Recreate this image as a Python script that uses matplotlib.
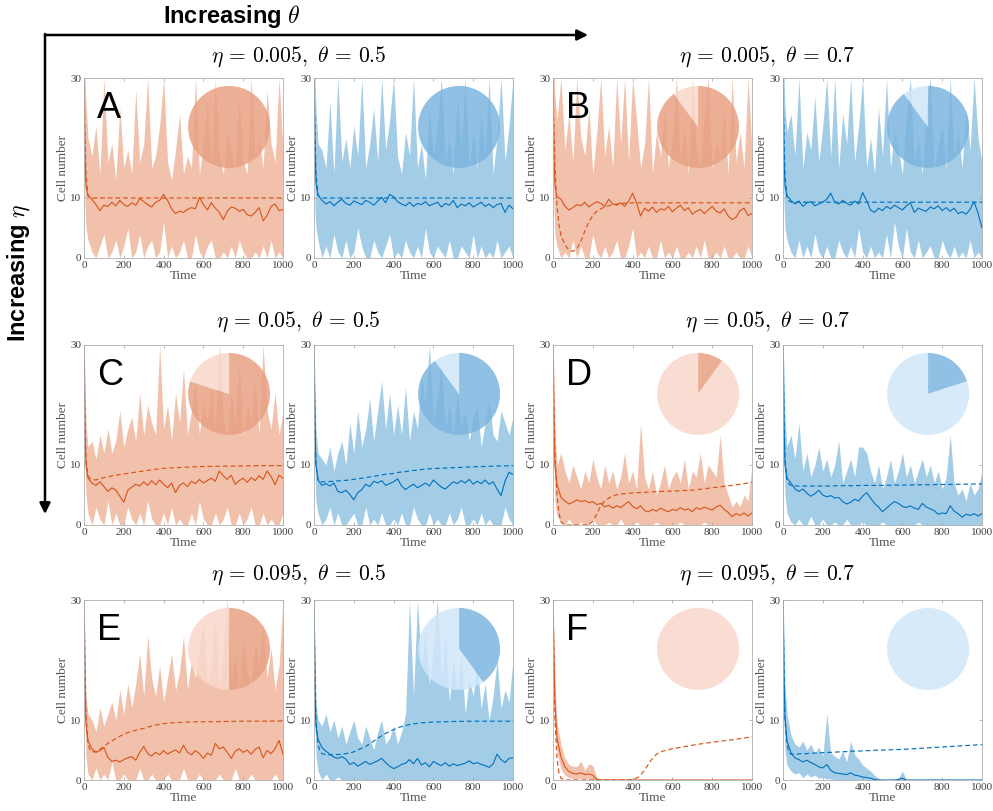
import matplotlib
matplotlib.use("Agg")
import matplotlib.pyplot as plt
from matplotlib.patches import FancyArrowPatch

plt.rcParams['mathtext.fontset'] = 'cm'
plt.rcParams['font.family'] = 'Liberation Serif'

# time grids
t = [0, 5, 10] + list(range(20, 1001, 20))
t_dash = [0, 5, 10, 20, 30, 40,
          60, 80, 100, 120, 140, 160, 180, 200,
          220, 240, 260, 300, 350, 400,
          430, 460, 490, 520, 550,
          600, 700, 800, 900, 1000]

# ---- panel A (eta=0.005, theta=0.5)
a_org_mean = [30, 17, 12, 10.3,
              9.8, 8.9, 7.9, 8.8, 8.6, 9.3, 8.7, 9.6, 8.9, 8.6,
              9.2, 8.8, 9.9, 9.4, 8.9, 8.5, 9.3, 9.6, 10.6, 9.6,
              8.2, 7.4, 7.8, 7.6, 8.1, 8.4, 8.2, 10.1, 8.9, 8.0,
              9.2, 8.3, 7.6, 6.4, 7.8, 8.5, 8.3, 7.8, 8.1, 7.2,
              7.0, 7.6, 8.4, 6.2, 7.1, 8.6, 9.0, 7.9, 8.1]
a_org_hi = [30, 30, 26, 20,
            17, 22, 14, 30, 16, 19, 13, 25, 15, 18,
            14, 28, 16, 19, 30, 15, 17, 22, 30, 16,
            13, 18, 24, 14, 17, 15, 30, 14, 19, 26,
            16, 30, 17, 14, 21, 18, 15, 27, 16, 14,
            30, 17, 20, 15, 28, 19, 16, 30, 18]
a_org_lo = [30, 9, 5, 3,
            1, 0, 2, 4, 0, 1, 3, 0, 2, 5,
            0, 1, 4, 0, 2, 3, 0, 1, 6, 0,
            2, 0, 1, 3, 0, 0, 4, 1, 0, 2,
            3, 0, 0, 1, 0, 2, 0, 3, 1, 0,
            0, 1, 0, 2, 0, 3, 0, 1, 0]
a_org_dash = [30, 21, 14, 10.5, 10.1, 10,
              10, 10, 10, 10, 10, 10, 10, 10,
              10, 10, 10, 10, 10, 10,
              10, 10, 10, 10, 10,
              10, 10, 10, 10, 10]

a_blu_mean = [30, 18, 12.5, 10.5,
              9.6, 9.0, 9.4, 8.7, 9.3, 9.8, 9.1, 8.8, 9.5, 9.2,
              8.9, 9.6, 9.3, 8.8, 9.5, 10.1, 9.2, 10.6, 10.2, 9.4,
              9.0, 8.7, 9.3, 8.6, 9.1, 8.9, 9.4, 8.7, 9.0, 9.3,
              8.5, 9.1, 8.8, 9.6, 8.4, 9.0, 8.7, 9.2, 8.5, 8.9,
              9.3, 8.6, 9.0, 8.4, 8.9, 9.1, 7.6, 8.8, 8.2]
a_blu_hi = [30, 30, 25, 19,
            18, 15, 26, 14, 30, 16, 20, 15, 22, 17,
            30, 15, 19, 25, 16, 30, 18, 23, 30, 17,
            14, 21, 17, 30, 15, 19, 13, 25, 17, 22,
            30, 16, 20, 14, 27, 18, 30, 15, 21, 15,
            24, 17, 30, 14, 20, 30, 16, 22, 30]
a_blu_lo = [30, 8, 5, 3,
            0, 2, 0, 4, 1, 0, 3, 0, 1, 5,
            2, 0, 0, 3, 1, 0, 2, 4, 0, 1,
            0, 3, 1, 0, 2, 0, 5, 1, 0, 2,
            1, 0, 3, 0, 0, 2, 1, 0, 4, 0,
            2, 0, 1, 0, 3, 0, 1, 2, 0]
a_blu_dash = [30, 21, 14, 10.5, 10.1, 10,
              10, 10, 10, 10, 10, 10, 10, 10,
              10, 10, 10, 10, 10, 10,
              10, 10, 10, 10, 10,
              10, 10, 10, 10, 10]

# ---- panel B (eta=0.005, theta=0.7)
b_org_mean = [30, 17, 12, 10.2,
              9.8, 8.6, 8.0, 8.4, 8.9, 8.7, 9.3, 8.5, 9.0, 9.4,
              9.1, 8.6, 9.8, 9.0, 8.8, 9.2, 8.6, 9.5, 10.8, 9.2,
              7.0, 8.3, 7.8, 8.5, 7.6, 8.2, 8.0, 8.6, 7.7, 8.3,
              8.8, 7.9, 8.4, 7.3, 7.8, 8.1, 7.4, 8.0, 8.6, 7.8,
              7.5, 8.2, 7.0, 6.4, 6.8, 7.9, 8.3, 7.1, 7.4]
b_org_hi = [30, 30, 27, 23,
            30, 18, 24, 16, 30, 20, 17, 25, 14, 21,
            30, 17, 22, 15, 30, 19, 30, 16, 30, 23,
            15, 19, 30, 14, 21, 17, 25, 15, 20, 30,
            16, 22, 14, 30, 18, 15, 24, 30, 15, 20,
            17, 25, 14, 30, 16, 21, 15, 30, 18]
b_org_lo = [30, 8, 4, 2,
            0, 1, 0, 3, 0, 2, 0, 0, 4, 1,
            0, 2, 0, 1, 3, 0, 0, 2, 5, 0,
            1, 0, 2, 0, 0, 3, 0, 1, 0, 2,
            0, 0, 1, 0, 2, 0, 3, 0, 0, 1,
            0, 2, 0, 0, 1, 0, 0, 2, 0]
b_org_dash = [30, 22, 15, 8.5, 5.5, 3.8,
              2.2, 1.3, 1.1, 1.5, 2.8, 4.5, 6.0, 7.1,
              7.8, 8.2, 8.5, 8.9, 9.1, 9.2,
              9.2, 9.2, 9.2, 9.2, 9.2,
              9.2, 9.2, 9.2, 9.2, 9.2]

b_blu_mean = [30, 17, 12, 10.4,
              9.6, 9.0, 9.5, 8.6, 9.2, 9.4, 8.7, 9.0, 9.3, 9.8,
              10.8, 9.3, 9.0, 9.6, 9.1, 8.8, 9.5, 9.0, 10.9, 9.6,
              8.0, 7.6, 8.3, 7.9, 8.6, 8.2, 8.8, 8.4, 8.0, 8.7,
              9.2, 7.6, 8.3, 8.0, 7.8, 8.5, 8.2, 8.7, 7.9, 8.4,
              7.8, 8.3, 7.4, 7.7, 7.3, 8.1, 9.4, 7.5, 5.0]
b_blu_hi = [30, 30, 25, 21,
            24, 17, 30, 15, 21, 18, 27, 16, 22, 30,
            17, 30, 15, 24, 19, 30, 16, 22, 30, 15,
            20, 14, 25, 17, 30, 15, 21, 18, 14, 24,
            30, 16, 20, 14, 25, 30, 15, 19, 22, 15,
            30, 17, 21, 15, 25, 18, 30, 20, 16]
b_blu_lo = [30, 9, 5, 3,
            1, 0, 3, 0, 2, 0, 4, 1, 0, 2,
            0, 0, 3, 1, 0, 2, 0, 5, 1, 0,
            2, 0, 1, 0, 4, 0, 6, 2, 0, 5,
            1, 0, 3, 0, 1, 2, 0, 0, 3, 1,
            0, 2, 0, 1, 0, 3, 0, 1, 0]
b_blu_dash = [30, 20, 14, 10, 9.5, 9.3,
              9.3, 9.3, 9.3, 9.3, 9.3, 9.3, 9.3, 9.3,
              9.3, 9.3, 9.3, 9.3, 9.3, 9.3,
              9.3, 9.3, 9.3, 9.3, 9.3,
              9.3, 9.3, 9.3, 9.3, 9.3]

# ---- panel C (eta=0.05, theta=0.5)
c_org_mean = [30, 16, 10, 7.8,
              7.0, 6.6, 7.2, 6.4, 5.6, 6.2, 5.8, 4.8, 3.8, 5.8,
              6.3, 6.8, 6.5, 7.2, 6.6, 7.4, 6.7, 7.5, 6.8, 6.2,
              7.0, 5.4, 6.6, 7.0, 6.4, 7.3, 6.9, 7.6, 7.0, 7.4,
              7.8, 7.3, 9.0, 8.2, 7.6, 8.3, 6.8, 7.4, 7.8, 7.1,
              7.9, 7.4, 8.2, 7.6, 9.0, 8.1, 6.7, 8.3, 7.8]
c_org_hi = [30, 25, 17, 13,
            14, 11, 15, 12, 16, 12, 14, 19, 13, 16,
            18, 14, 22, 15, 20, 17, 15, 30, 16, 20,
            14, 22, 17, 26, 15, 19, 24, 15, 21, 17,
            23, 16, 30, 18, 15, 22, 17, 27, 15, 20,
            17, 24, 15, 30, 19, 16, 22, 15, 19]
c_org_lo = [30, 10, 5, 2,
            0, 3, 1, 0, 4, 0, 2, 0, 0, 3,
            1, 0, 2, 0, 4, 1, 0, 0, 2, 0,
            3, 0, 1, 0, 0, 2, 0, 4, 1, 0,
            0, 2, 0, 1, 3, 0, 0, 2, 0, 1,
            3, 0, 0, 2, 0, 1, 0, 0, 2]
c_org_dash = [30, 18, 11, 8.2, 7.8, 7.6,
              7.5, 7.7, 7.9, 8.0, 8.2, 8.3, 8.4, 8.5,
              8.6, 8.7, 8.8, 9.0, 9.25, 9.45,
              9.5, 9.55, 9.6, 9.65, 9.7,
              9.75, 9.8, 9.85, 9.9, 9.9]

c_blu_mean = [30, 16, 10, 7.5,
              6.6, 6.9, 6.5, 7.0, 5.6, 5.4, 5.8, 5.1, 4.2, 5.4,
              5.9, 6.8, 6.4, 7.3, 7.0, 7.4, 6.6, 6.9, 7.2, 7.7,
              6.5, 5.9, 6.4, 6.8, 6.2, 6.6, 7.0, 6.5, 7.5, 6.9,
              6.3, 6.0, 6.6, 7.2, 6.9, 7.4, 7.0, 7.6, 6.8, 7.3,
              6.9, 7.5, 6.8, 7.2, 6.0, 4.9, 7.3, 8.8, 8.4]
c_blu_hi = [30, 24, 16, 12,
            11, 10, 13, 9, 12, 14, 10, 17, 12, 19,
            13, 16, 21, 14, 19, 24, 16, 22, 15, 20,
            15, 23, 14, 19, 16, 25, 20, 30, 17, 21,
            27, 16, 20, 15, 22, 16, 19, 14, 18, 20,
            13, 17, 21, 15, 14, 19, 17, 15, 18]
c_blu_lo = [30, 9, 4, 2,
            0, 1, 3, 0, 2, 0, 0, 1, 2, 0,
            0, 3, 0, 1, 0, 2, 0, 0, 1, 0,
            2, 0, 0, 3, 1, 0, 0, 2, 0, 1,
            0, 0, 2, 0, 1, 3, 0, 0, 1, 0,
            2, 0, 1, 0, 0, 0, 3, 1, 0]
c_blu_dash = [30, 16, 10, 7.6, 7.3, 7.2,
              7.2, 7.25, 7.3, 7.35, 7.4, 7.45, 7.5, 7.6,
              7.7, 7.8, 7.9, 8.1, 8.4, 8.6,
              8.8, 8.9, 9.05, 9.15, 9.3,
              9.4, 9.55, 9.7, 9.8, 9.9]

# ---- panel D (eta=0.05, theta=0.7)
d_org_mean = [30, 16, 10, 6.8,
              4.6, 4.0, 3.5, 3.8, 4.2, 3.9, 4.1, 3.7, 3.9, 3.4,
              3.6, 3.0, 3.3, 2.8, 3.2, 2.9, 3.4, 3.9, 3.1, 2.7,
              3.2, 2.4, 2.2, 2.6, 2.3, 2.8, 2.5, 2.2, 2.6, 2.4,
              2.9, 2.5, 2.7, 2.2, 2.9, 2.6, 3.0, 2.7, 2.5, 3.0,
              3.3, 2.6, 2.1, 1.4, 1.9, 1.6, 2.0, 1.5, 2.0]
d_org_hi = [30, 25, 15, 10,
            12, 9, 7, 10, 8, 6, 9, 7, 11, 8,
            6, 10, 7, 9, 6, 8, 12, 7, 9, 6,
            17, 8, 6, 9, 5, 7, 10, 6, 8, 9,
            7, 11, 6, 9, 8, 12, 7, 10, 9, 8,
            15, 7, 5, 3, 4, 3, 5, 4, 10]
d_org_lo = [30, 10, 4, 1.5,
            0.5, 0, 1, 0, 0, 0.5, 0, 0, 1, 0,
            0, 0, 0.5, 0, 0, 1, 0, 0, 0, 0.5,
            0, 0, 0, 0, 0.5, 0, 0, 0, 0, 0,
            0.5, 0, 0, 0, 0, 0, 0.5, 0, 0, 0,
            0, 0, 0, 0, 0, 0, 0, 0, 0]
d_org_dash = [30, 20, 12, 5, 2, 0.5,
              0, 0, 0, 0, 0, 0, 0.1, 0.6,
              1.8, 3.2, 4.0, 4.9, 5.2, 5.35,
              5.4, 5.45, 5.5, 5.55, 5.6,
              5.65, 5.8, 6.2, 6.6, 7.1]

d_blu_mean = [30, 17, 10, 7.8,
              7.0, 6.0, 5.6, 6.0, 5.3, 4.8, 5.2, 5.8, 5.0, 4.7,
              4.9, 4.5, 4.6, 3.9, 3.5, 3.8, 4.3, 4.0, 4.8, 5.4,
              4.5, 3.6, 3.0, 2.2, 2.8, 3.4, 3.9, 3.6, 3.1, 2.9,
              3.2, 2.8, 2.6, 3.6, 3.0, 2.7, 2.4, 1.8, 2.0, 1.9,
              3.2, 2.3, 1.9, 1.3, 1.8, 1.6, 1.9, 1.5, 1.9]
d_blu_hi = [30, 26, 18, 13,
            15, 11, 17, 9, 12, 8, 10, 13, 9, 11,
            8, 10, 14, 7, 9, 11, 8, 13, 13, 12,
            9, 7, 10, 6, 8, 11, 7, 9, 12, 8,
            10, 7, 9, 11, 8, 10, 7, 9, 6, 8,
            15, 7, 5, 6, 4, 7, 5, 6, 9]
d_blu_lo = [30, 11, 5, 2,
            0.5, 0, 1, 0, 0, 1.5, 0, 0, 1, 0,
            0, 0.5, 0, 0, 1, 0, 0, 0, 0.5, 0,
            0, 0, 0, 0.5, 0, 0, 0, 0, 0, 0,
            0, 0, 0.5, 0, 0, 0, 0, 0, 0, 0,
            0, 0, 0, 0, 0, 0, 0, 0, 0]
d_blu_dash = [30, 18, 11, 7.5, 6.8, 6.6,
              6.5, 6.5, 6.5, 6.5, 6.5, 6.5, 6.5, 6.5,
              6.5, 6.5, 6.55, 6.55, 6.55, 6.6,
              6.6, 6.6, 6.6, 6.6, 6.65,
              6.65, 6.7, 6.75, 6.8, 6.85]

# ---- panel E (eta=0.095, theta=0.5)
e_org_mean = [30, 16, 9.5, 6.5,
              5.2, 4.6, 4.9, 5.4, 3.8, 3.1, 3.3, 3.0, 3.4, 3.7,
              3.9, 3.3, 4.6, 5.6, 4.4, 4.0, 4.6, 4.2, 4.9, 4.3,
              4.7, 5.0, 4.5, 5.8, 4.6, 4.2, 4.9, 4.4, 3.6, 4.5,
              4.1, 6.1, 5.2, 5.5, 4.6, 3.6, 4.8, 5.2, 4.6, 5.0,
              4.3, 5.1, 5.5, 3.7, 4.9, 4.4, 5.2, 6.6, 4.3]
e_org_hi = [30, 24, 14, 11,
            10, 8, 12, 9, 11, 13, 10, 15, 11, 16,
            12, 16, 21, 14, 24, 17, 14, 19, 13, 17,
            21, 15, 18, 24, 15, 20, 17, 22, 26, 16,
            19, 27, 15, 22, 30, 17, 21, 15, 24, 18,
            16, 23, 19, 26, 17, 22, 15, 19, 30]
e_org_lo = [30, 10, 4, 1,
            0, 2, 0, 1, 0, 3, 0, 0, 1, 0,
            0, 0, 2, 0, 0, 1, 0, 0, 0, 1,
            0, 0, 0, 2, 0, 0, 0, 1, 0, 0,
            0, 0, 1, 0, 0, 0, 2, 0, 0, 0,
            1, 0, 0, 0, 0, 0, 1, 0, 0]
e_org_dash = [30, 19, 11, 6.0, 5.0, 4.7,
              4.7, 5.1, 5.6, 6.1, 6.5, 6.9, 7.3, 7.6,
              7.9, 8.1, 8.3, 8.6, 9.1, 9.4,
              9.5, 9.55, 9.6, 9.65, 9.7,
              9.7, 9.75, 9.8, 9.8, 9.85]

e_blu_mean = [30, 15, 9, 6.8,
              5.4, 4.8, 4.3, 3.8, 3.6, 3.9, 3.5, 2.6, 2.9, 2.3,
              2.7, 3.1, 2.6, 2.9, 3.2, 3.6, 2.9, 2.3, 1.9, 2.2,
              2.6, 2.8, 3.4, 2.7, 3.6, 2.5, 2.9, 2.2, 3.1, 2.7,
              2.4, 2.9, 2.3, 2.7, 2.4, 2.6, 2.8, 3.2, 2.7, 2.9,
              2.6, 2.4, 2.1, 2.7, 4.3, 3.4, 2.9, 3.6, 3.7]
e_blu_hi = [30, 22, 13, 10,
            9, 11, 8, 10, 7, 9, 6, 8, 10, 7,
            6, 9, 7, 5, 8, 10, 6, 7, 9, 6,
            8, 11, 30, 14, 30, 19, 25, 16, 22, 30,
            17, 24, 13, 20, 15, 21, 11, 17, 14, 19,
            12, 16, 10, 14, 20, 12, 15, 13, 20]
e_blu_lo = [30, 9, 4, 1.5,
            0, 1, 0, 0, 0.5, 0, 0, 0, 0, 0,
            0, 0, 0, 0, 0, 0, 0, 0, 0, 0,
            0, 0, 0, 0, 0, 0, 0, 0, 0, 0,
            0, 0, 0, 0, 0, 0, 0, 0, 0, 0,
            0, 0, 0, 0, 0, 0, 0, 0, 0]
e_blu_dash = [30, 18, 10, 6.0, 4.8, 4.4,
              4.2, 4.2, 4.2, 4.25, 4.3, 4.4, 4.5, 4.7,
              5.0, 5.3, 5.6, 6.5, 7.6, 8.4,
              8.8, 9.1, 9.3, 9.45, 9.55,
              9.65, 9.75, 9.8, 9.8, 9.8]

# ---- panel F (eta=0.095, theta=0.7)
f_org_mean = [30, 20, 12.5, 7.0,
              3.8, 2.2, 1.4, 1.1, 1.0, 1.2, 0.9, 1.0, 0.8, 0.1,
              0, 0, 0, 0, 0, 0, 0, 0, 0, 0,
              0, 0, 0, 0, 0, 0, 0, 0, 0, 0,
              0, 0, 0, 0, 0, 0, 0, 0, 0, 0,
              0, 0, 0, 0, 0, 0, 0, 0, 0]
f_org_hi = [30, 24, 16, 9.5,
            6.0, 3.6, 2.6, 2.3, 2.2, 3.2, 1.6, 2.7, 2.4, 0.4,
            0, 0, 0, 0, 0, 0, 0, 0, 0, 0,
            0, 0, 0, 0, 0, 0, 0, 0, 0, 0,
            0, 0, 0, 0, 0, 0, 0, 0, 0, 0,
            0, 0, 0, 0, 0, 0, 0, 0, 0]
f_org_lo = [30, 16, 9, 4.5,
            1.8, 0.8, 0.4, 0.2, 0.2, 0.3, 0.1, 0.3, 0.1, 0,
            0, 0, 0, 0, 0, 0, 0, 0, 0, 0,
            0, 0, 0, 0, 0, 0, 0, 0, 0, 0,
            0, 0, 0, 0, 0, 0, 0, 0, 0, 0,
            0, 0, 0, 0, 0, 0, 0, 0, 0]
f_org_dash = [30, 19, 10, 3.5, 1.2, 0.3,
              0, 0, 0, 0, 0, 0, 0, 0,
              0, 0, 0, 0, 0, 0.05,
              0.5, 1.6, 3.2, 4.3, 4.8,
              5.2, 5.8, 6.3, 6.7, 7.2]

f_blu_mean = [30, 17, 10.5, 6.5,
              4.5, 3.7, 3.4, 3.0, 3.3, 2.9, 2.6, 2.2, 2.0, 2.6,
              1.6, 1.2, 1.1, 1.0, 0.9, 1.2, 0.8, 0.7, 0.5, 0.4,
              0.3, 0.1, 0, 0, 0, 0, 0, 0.1, 0.3, 0,
              0, 0, 0, 0, 0, 0, 0, 0, 0, 0,
              0, 0, 0, 0, 0, 0, 0, 0, 0]
f_blu_hi = [30, 25, 16, 11,
            7.5, 6.0, 5.5, 6.5, 5.0, 6.0, 4.5, 5.5, 4.0, 11,
            4.5, 4.0, 3.5, 4.8, 3.0, 6.5, 4.2, 3.5, 2.5, 2.0,
            1.5, 0.8, 0.3, 0, 0, 0, 0, 0.3, 1.5, 0,
            0, 0, 0, 0, 0, 0, 0, 0, 0, 0,
            0, 0, 0, 0, 0, 0, 0, 0, 0]
f_blu_lo = [30, 10, 5, 2.5,
            1.5, 1.0, 1.2, 0.4, 1.0, 0.5, 0.8, 0.3, 0.4, 0.2,
            0.2, 0, 0, 0, 0, 0, 0, 0, 0, 0,
            0, 0, 0, 0, 0, 0, 0, 0, 0, 0,
            0, 0, 0, 0, 0, 0, 0, 0, 0, 0,
            0, 0, 0, 0, 0, 0, 0, 0, 0]
f_blu_dash = [30, 18, 10, 6, 4.6, 4.3,
              4.3, 4.35, 4.4, 4.4, 4.45, 4.5, 4.5, 4.55,
              4.6, 4.6, 4.65, 4.7, 4.8, 4.85,
              4.9, 4.95, 5.0, 5.0, 5.05,
              5.1, 5.3, 5.5, 5.7, 5.9]

# pie fractions (dark, light) per panel
pie_org = {'A': [1.0, 0.0], 'B': [0.9, 0.1], 'C': [0.8, 0.2],
           'D': [0.1, 0.9], 'E': [0.5, 0.5], 'F': [0.0, 1.0]}
pie_blu = {'A': [1.0, 0.0], 'B': [0.9, 0.1], 'C': [0.9, 0.1],
           'D': [0.2, 0.8], 'E': [0.4, 0.6], 'F': [0.0, 1.0]}

titles = [r'$\eta \,=\, 0.005,\ \theta \,=\, 0.5$', r'$\eta \,=\, 0.005,\ \theta \,=\, 0.7$',
          r'$\eta \,=\, 0.05,\ \theta \,=\, 0.5$', r'$\eta \,=\, 0.05,\ \theta \,=\, 0.7$',
          r'$\eta \,=\, 0.095,\ \theta \,=\, 0.5$', r'$\eta \,=\, 0.095,\ \theta \,=\, 0.7$']

ORANGE = '#D95319'
BLUE = '#0072BD'
PIE_ORG_COLS = ['#E8A184', '#F9D8CB']
PIE_BLU_COLS = ['#7DB5DE', '#D0E7FA']

W, H = 993, 811
lefts = [84, 314, 553, 783]
tops = [78, 345, 600]
title_y = [57, 322, 575]
AW, AH = 199, 180

fig = plt.figure(figsize=(W / 100, H / 100), dpi=100)


def panel(left, top, color, pie_cols, mean, hi, lo, dash, pie, letter=None):
    for arr in (mean, hi, lo):
        assert len(arr) == len(t), (letter, len(arr))
    assert len(dash) == len(t_dash), (letter, len(dash))
    ax = fig.add_axes([left / W, 1 - (top + AH) / H, AW / W, AH / H])
    ax.fill_between(t, lo, hi, color=color, alpha=0.36, lw=0)
    ax.plot(t_dash, dash, color=color, lw=0.85, ls=(0, (4, 2.5)))
    ax.plot(t, mean, color=color, lw=0.8)
    ax.set_xlim(0, 1000)
    ax.set_ylim(0, 30)
    ax.set_xticks([0, 200, 400, 600, 800, 1000])
    ax.set_yticks([0, 10, 30])
    ax.tick_params(direction='in', length=2.5, width=0.5, color='#a0a0a0',
                   labelcolor='#404040', labelsize=8, top=True, right=True, pad=2)
    for s in ax.spines.values():
        s.set_color('#b0b0b0')
        s.set_linewidth(0.6)
    ax.set_xlabel('Time', fontsize=9.5, color='#555555', labelpad=0)
    ax.set_ylabel('Cell number', fontsize=9.5, color='#555555', labelpad=1)
    if letter:
        ax.text(0.065, 0.78, letter, transform=ax.transAxes, fontsize=26,
                family='Liberation Sans', color='black')
    pax = ax.inset_axes([0.729 - 0.206, 0.728 - 0.228, 0.412, 0.456])
    pax.pie(pie, colors=pie_cols, startangle=90, counterclock=False,
            wedgeprops=dict(alpha=0.85, linewidth=0))
    pax.set_xlim(-1, 1)
    pax.set_ylim(-1, 1)
    pax.axis('off')
    return ax


groups = [
    ('A', 0, 0, a_org_mean, a_org_hi, a_org_lo, a_org_dash, a_blu_mean, a_blu_hi, a_blu_lo, a_blu_dash),
    ('B', 0, 2, b_org_mean, b_org_hi, b_org_lo, b_org_dash, b_blu_mean, b_blu_hi, b_blu_lo, b_blu_dash),
    ('C', 1, 0, c_org_mean, c_org_hi, c_org_lo, c_org_dash, c_blu_mean, c_blu_hi, c_blu_lo, c_blu_dash),
    ('D', 1, 2, d_org_mean, d_org_hi, d_org_lo, d_org_dash, d_blu_mean, d_blu_hi, d_blu_lo, d_blu_dash),
    ('E', 2, 0, e_org_mean, e_org_hi, e_org_lo, e_org_dash, e_blu_mean, e_blu_hi, e_blu_lo, e_blu_dash),
    ('F', 2, 2, f_org_mean, f_org_hi, f_org_lo, f_org_dash, f_blu_mean, f_blu_hi, f_blu_lo, f_blu_dash),
]

for i, g in enumerate(groups):
    letter, r, c = g[0], g[1], g[2]
    panel(lefts[c], tops[r], ORANGE, PIE_ORG_COLS, g[3], g[4], g[5], g[6], pie_org[letter], letter)
    panel(lefts[c + 1], tops[r], BLUE, PIE_BLU_COLS, g[7], g[8], g[9], g[10], pie_blu[letter])
    xc = (lefts[c] + lefts[c + 1] + AW) / 2
    fig.text(xc / W, 1 - title_y[r] / H, titles[i], ha='center', va='center', fontsize=15.5)

# outer arrows and labels
fig.add_artist(FancyArrowPatch((45 / W, 1 - 35 / H), (588 / W, 1 - 35 / H),
                               transform=fig.transFigure, arrowstyle='-|>',
                               mutation_scale=16, lw=1.8, color='black',
                               shrinkA=0, shrinkB=0))
fig.add_artist(FancyArrowPatch((45 / W, 1 - 34 / H), (45 / W, 1 - 514 / H),
                               transform=fig.transFigure, arrowstyle='-|>',
                               mutation_scale=16, lw=1.8, color='black',
                               shrinkA=0, shrinkB=0))
fig.text(232 / W, 1 - 17 / H, r'Increasing $\theta$', ha='center', va='center',
         fontsize=17, fontweight='bold', family='Liberation Sans')
fig.text(19 / W, 1 - 273 / H, r'Increasing $\eta$', ha='center', va='center',
         rotation=90, fontsize=17, fontweight='bold', family='Liberation Sans')

fig.savefig('out.png', dpi=100)
